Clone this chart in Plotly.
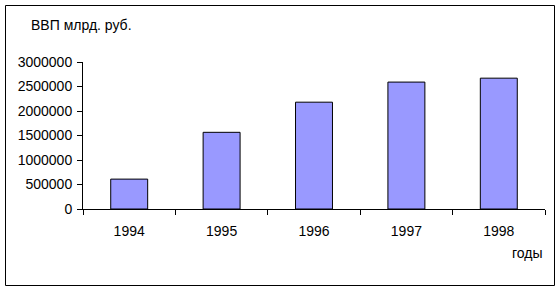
import plotly.graph_objects as go

years = ["1994", "1995", "1996", "1997", "1998"]
gdp = [610000, 1565000, 2180000, 2590000, 2670000]
y_ticks = [0, 500000, 1000000, 1500000, 2000000, 2500000, 3000000]
title_text = "ВВП млрд. руб."
x_label = "годы"

W, H = 559, 290
L, R, T, B = 83, 14, 62, 81
pw, ph = W - L - R, H - T - B

def px(x):
    return (x - L) / pw

def py(y):
    return (H - B - y) / ph

font = dict(family="Liberation Sans, Arial, sans-serif", size=14, color="black")

fig = go.Figure(go.Bar(
    x=years, y=gdp,
    marker=dict(color="#9999FF", line=dict(color="black", width=1)),
    width=0.4,
))

fig.update_layout(
    width=W, height=H,
    margin=dict(l=L, r=R, t=T, b=B),
    paper_bgcolor="white", plot_bgcolor="white",
    showlegend=False,
    font=font,
    xaxis=dict(
        type="category", showline=True, linecolor="black", linewidth=1,
        ticks="outside", ticklen=5, tickcolor="black", tickson="boundaries",
        showgrid=False, zeroline=False, tickfont=font, ticklabelstandoff=9,
    ),
    yaxis=dict(
        range=[0, 3000000], tickvals=y_ticks, ticktext=[str(v) for v in y_ticks],
        showline=True, linecolor="black", linewidth=1,
        ticks="outside", ticklen=5, tickcolor="black",
        showgrid=False, zeroline=False, tickfont=font, ticklabelstandoff=2,
    ),
    shapes=[dict(
        type="rect", xref="paper", yref="paper",
        x0=px(5.5), x1=px(554.5), y0=py(5.5), y1=py(285.5),
        line=dict(color="black", width=1), fillcolor="rgba(0,0,0,0)",
        layer="below",
    )],
    annotations=[
        dict(text=title_text, xref="paper", yref="paper", x=px(29), y=py(25),
             xanchor="left", yanchor="middle", showarrow=False, font=font),
        dict(text=x_label, xref="paper", yref="paper", x=px(545), y=py(253),
             xanchor="right", yanchor="middle", showarrow=False, font=font),
    ],
)

fig.write_html("out.html")
